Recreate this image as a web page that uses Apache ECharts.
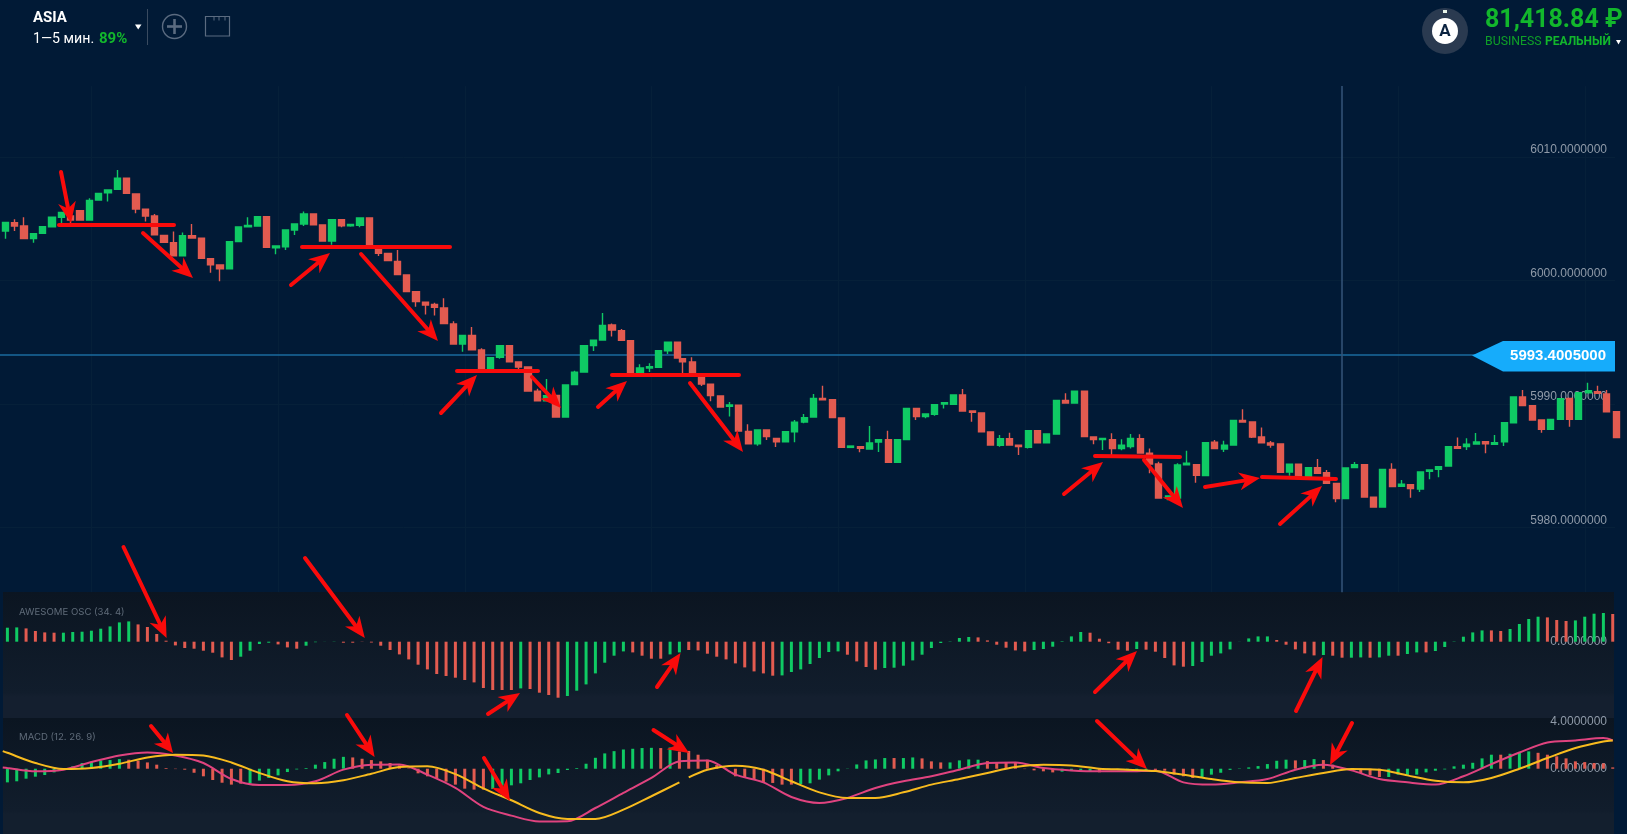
<!DOCTYPE html>
<html><head><meta charset="utf-8">
<style>html,body{margin:0;padding:0;background:#011a36}#c{width:1627px;height:834px}</style>
<script src="https://cdn.jsdelivr.net/npm/echarts@6/dist/echarts.min.js"></script>
</head><body><div id="c"></div>
<script>
const candleOpen=[6003.44,6004.12,6003.85,6002.82,6003.25,6003.79,6004.55,6004.66,6005.09,6004.33,
6005.95,6006.54,6006.81,6007.71,6006.44,6005.20,6004.66,6003.09,6002.50,6001.44,
6003.06,6002.85,6001.20,6000.69,6000.39,6002.58,6003.79,6003.85,6004.60,6002.09,
6002.17,6003.52,6004.01,6004.82,6003.93,6002.63,6004.36,6003.87,6003.90,6004.49,
6002.01,6001.63,6000.98,5999.88,5998.53,5997.67,5997.50,5997.21,5995.91,5994.29,
5994.99,5993.81,5992.24,5993.21,5994.16,5992.83,5992.43,5990.46,5989.70,5990.13,
5988.38,5991.00,5992.02,5994.16,5994.62,5995.83,5995.37,5994.56,5991.94,5992.35,
5992.40,5993.75,5994.43,5993.10,5992.83,5991.84,5991.03,5990.08,5989.24,5989.33,
5987.22,5986.22,5987.33,5986.65,5986.38,5987.19,5987.98,5988.38,5989.89,5989.78,
5988.30,5985.92,5985.98,5985.79,5986.36,5986.55,5984.71,5986.55,5989.08,5988.41,
5988.60,5989.43,5989.41,5990.16,5988.87,5988.70,5987.17,5986.09,5986.63,5986.09,
5985.92,5987.27,5986.30,5987.00,5989.73,5989.51,5990.46,5986.76,5986.55,5986.55,
5985.82,5985.98,5986.63,5985.44,5984.58,5981.82,5981.82,5984.52,5984.52,5983.63,
5986.33,5985.79,5986.11,5988.11,5987.98,5986.76,5986.28,5986.19,5983.93,5984.55,
5983.58,5984.28,5983.87,5983.01,5981.77,5984.28,5984.52,5981.88,5981.09,5984.14,
5982.77,5982.90,5982.55,5983.98,5984.14,5984.41,5985.98,5985.98,5986.19,5986.38,
5986.17,5986.38,5987.92,5990.00,5989.30,5988.14,5987.38,5988.19,5989.89,5988.19,
5990.35,5990.43,5990.24,5988.81];
const candleClose=[6004.14,6003.85,6002.82,6003.23,6003.79,6004.55,6004.95,6004.33,6004.33,6005.92,
6006.49,6006.76,6007.71,6006.49,6005.22,6004.66,6003.14,6002.52,6001.44,6003.06,
6002.87,6001.23,6000.71,6000.39,6002.58,6003.76,6003.90,6004.60,6002.12,6002.23,
6003.52,6004.01,6004.82,6003.95,6002.63,6004.36,6003.87,6003.98,6004.49,6002.04,
6001.63,6001.04,5999.91,5998.53,5997.72,5997.45,5997.26,5995.94,5994.29,5994.99,
5993.83,5992.21,5993.18,5994.16,5992.86,5992.43,5990.49,5989.70,5990.11,5988.38,
5990.97,5992.00,5994.16,5994.59,5995.80,5995.42,5994.59,5991.97,5992.35,5992.46,
5993.75,5994.43,5993.16,5992.86,5991.86,5991.05,5990.11,5989.19,5989.35,5987.25,
5986.22,5987.33,5986.79,5986.38,5987.19,5987.95,5988.33,5989.89,5989.78,5988.33,
5985.92,5986.03,5985.84,5986.28,5986.55,5984.71,5986.55,5989.08,5988.41,5988.62,
5989.38,5989.54,5990.16,5988.87,5988.76,5987.19,5986.11,5986.63,5986.11,5985.98,
5987.27,5986.30,5987.00,5989.73,5989.51,5990.46,5986.79,5986.55,5986.65,5985.82,
5986.09,5986.65,5985.47,5984.58,5981.82,5981.98,5984.49,5984.63,5983.66,5986.30,
5985.82,5986.09,5988.11,5987.98,5986.76,5986.30,5986.11,5983.90,5984.55,5983.55,
5984.28,5983.82,5983.01,5981.77,5984.25,5984.52,5981.90,5981.09,5984.14,5982.74,
5982.93,5982.58,5983.93,5984.09,5984.36,5985.98,5985.84,5986.17,5986.36,5986.22,
5986.30,5987.92,5990.00,5989.30,5988.14,5987.38,5988.19,5989.87,5988.19,5990.35,
5990.51,5990.30,5988.81,5986.71];
const candleLow=[6002.82,6003.44,6002.82,6002.50,6003.25,6003.79,6004.06,6004.06,6004.33,6004.33,
6005.95,6005.82,6006.81,6006.49,6004.87,6004.22,6003.14,6002.52,6001.44,6001.44,
6002.87,6001.23,6000.07,5999.37,6000.39,6002.58,6003.79,6003.85,6002.12,6001.55,
6001.90,6003.12,6003.85,6003.95,6002.63,6002.33,6003.74,6003.79,6003.74,6002.04,
6001.42,6001.04,5999.91,5998.53,5997.31,5996.69,5996.59,5995.94,5994.29,5993.67,
5993.83,5992.21,5992.24,5993.10,5992.86,5992.19,5990.49,5989.70,5989.70,5988.38,
5988.38,5991.00,5992.02,5993.72,5994.62,5994.89,5994.59,5991.97,5991.94,5992.02,
5992.40,5993.48,5993.16,5991.86,5991.86,5990.89,5989.65,5989.19,5988.43,5987.25,
5986.22,5986.06,5986.52,5985.95,5986.38,5986.33,5987.87,5988.38,5989.78,5988.33,
5985.92,5985.92,5985.52,5985.79,5985.55,5984.71,5984.71,5986.55,5988.14,5988.27,
5988.49,5989.06,5989.41,5988.87,5988.00,5987.19,5986.11,5985.98,5986.11,5985.30,
5985.82,5986.30,5986.30,5987.00,5989.51,5989.51,5986.79,5986.17,5985.71,5985.30,
5985.68,5985.84,5985.47,5983.82,5981.82,5981.63,5981.82,5984.52,5983.06,5983.63,
5985.82,5985.55,5986.11,5987.98,5986.68,5986.30,5985.90,5983.90,5983.63,5983.55,
5983.58,5983.82,5983.01,5981.47,5981.77,5984.28,5981.90,5981.09,5981.09,5982.74,
5982.77,5981.85,5982.31,5983.33,5983.50,5984.41,5985.84,5985.71,5986.19,5985.44,
5986.17,5986.03,5987.92,5989.30,5988.14,5987.11,5987.38,5988.19,5987.60,5988.19,
5990.35,5990.30,5988.81,5986.71];
const candleHigh=[6004.14,6004.39,6004.55,6003.23,6003.85,6004.55,6005.01,6005.01,6005.09,6006.09,
6006.49,6006.76,6008.38,6007.71,6006.44,6005.20,6004.82,6003.09,6003.41,6003.31,
6004.01,6002.85,6001.20,6000.69,6002.58,6003.76,6004.55,6004.60,6004.60,6002.23,
6003.52,6004.01,6005.03,6004.82,6003.93,6004.36,6004.36,6003.98,6004.49,6004.49,
6002.01,6001.63,6001.90,5999.88,5998.53,5997.67,5997.64,5997.99,5996.13,5994.99,
5995.67,5993.94,5993.18,5994.16,5994.16,5992.83,5992.43,5990.67,5991.46,5990.13,
5990.97,5992.13,5994.16,5994.59,5996.80,5995.96,5995.51,5994.56,5992.65,5992.73,
5993.75,5994.43,5994.43,5993.10,5993.21,5991.84,5991.03,5990.13,5989.60,5989.33,
5987.79,5987.33,5987.33,5986.65,5987.19,5988.14,5988.62,5990.24,5990.92,5989.78,
5988.30,5986.03,5985.98,5987.65,5986.55,5987.27,5986.55,5989.08,5989.08,5988.62,
5989.38,5989.54,5990.16,5990.65,5988.87,5988.70,5987.17,5986.92,5987.11,5986.09,
5987.27,5987.27,5987.00,5989.73,5990.30,5990.46,5990.46,5986.76,5986.65,5987.06,
5986.57,5987.00,5986.98,5985.84,5984.76,5981.98,5984.63,5985.65,5984.52,5986.30,
5986.52,5986.46,5988.11,5989.00,5987.98,5987.54,5986.44,5986.19,5984.55,5984.55,
5984.28,5984.98,5984.09,5983.01,5984.25,5984.74,5984.52,5981.88,5984.14,5984.63,
5983.28,5982.90,5983.93,5984.09,5984.36,5985.98,5986.73,5986.65,5987.09,5986.38,
5986.92,5987.92,5990.00,5990.57,5989.30,5988.14,5988.19,5989.87,5989.89,5990.35,
5991.16,5990.92,5990.57,5988.81];
const aoValues=[1.4,1.43,1.33,1.07,.93,.9,.9,.97,1,1.1,1.3,1.53,1.93,2.03,1.73,1.47,.77,.1,-.37,-.63,
-.7,-.9,-1.1,-1.57,-1.83,-1.5,-.9,-.23,-.1,-.27,-.57,-.7,-.4,-.05,-.01,.02,-.1,-.1,-.02,-.08,
-.4,-.83,-1.27,-1.77,-2.3,-2.77,-3.23,-3.43,-3.6,-3.83,-4.07,-4.63,-4.83,-4.83,-4.83,-4.67,-4.73,-5.1,-5.33,-5.6,
-5.43,-4.9,-4.27,-3.17,-2.1,-1.4,-.97,-1.07,-1.4,-1.7,-1.7,-1.27,-1.07,-.83,-.87,-1.2,-1.5,-1.77,-2.17,-2.57,
-2.97,-3.17,-3.4,-3.37,-3.03,-2.77,-2.23,-1.63,-1.03,-.97,-1.3,-1.97,-2.53,-2.8,-2.63,-2.6,-2.4,-1.87,-1.3,-.63,
-.13,.03,.37,.47,.43,.13,-.3,-.6,-.87,-.97,-.83,-.73,-.5,.05,.53,.97,.9,.3,-.15,-.8,
-.9,-.73,-.8,-1,-1.63,-2.37,-2.5,-2.43,-2.03,-1.4,-1.17,-.77,.01,.33,.53,.53,.17,-.3,-.77,-1.17,
-1.37,-1.33,-1.4,-1.6,-1.6,-1.57,-1.6,-1.57,-1.4,-1.4,-1.23,-1.07,-1.07,-.93,-.53,.03,.5,.93,1.13,1.13,
1.07,1.27,1.77,2.27,2.5,2.43,2.17,2.07,2.13,2.5,2.8,2.87,2.77];
const aoDirection=('gg rrrr gggggggg rrrrrrrrrrr gggg rrr gggg rrrrrrrrrrrrrrrrrrr g rrrr ggggggg rrrr gg rrrrrrrrrr ggggggg rrrr gggggggggg rrrrrr gggggg rrrrr g rrrrr ggggggggg rrrrr g rr gg r gg r gg r gggggg rr gggg rrr gggg r').replace(/ /g,'');
const histValues=[-1.15,-1.06,-.84,-.67,-.53,-.31,-.1,.2,.48,.59,.7,.73,.81,.76,.67,.53,.34,.06,-.03,-.08,
-.34,-.64,-.95,-1.18,-1.34,-1.26,-1.23,-1,-.78,-.56,-.28,-.06,.06,.34,.56,.84,1,.95,.84,.73,
.62,.48,.28,.03,-.39,-.64,-.84,-1.09,-1.34,-1.68,-1.76,-1.76,-1.71,-1.43,-1.4,-1.23,-.95,-.73,-.48,-.36,
-.11,.06,.42,.92,1.29,1.48,1.62,1.68,1.74,1.76,1.74,1.79,1.45,1.5,1.18,.76,.31,-.03,-.64,-.78,
-.92,-1.15,-1.2,-1.34,-1.34,-1.29,-1.23,-.92,-.56,-.22,.02,.36,.7,.78,.9,.9,.9,.95,.87,.62,
.53,.53,.7,.78,.76,.64,.53,.53,.48,-.03,-.14,-.22,-.31,-.25,-.2,-.14,-.22,-.3,-.1,-.12,
-.12,-.12,-.1,-.1,-.17,-.5,-.64,-.78,-.7,-.5,-.34,-.1,.03,.11,.22,.39,.67,.76,.7,.73,
.81,.73,.34,.06,-.08,-.36,-.56,-.7,-.7,-.5,-.53,-.5,-.31,-.17,-.06,.2,.34,.5,.87,1.18,
1.18,1.26,1.37,1.46,1.34,1.18,1.04,.87,.62,.56,.48,.45,.11];
const histDirection=('gggggg r gggggg rrrrrrrrrrrrr ggggggggggg rrrrrrrrrrrrrrr gggggggggggggggggg r g rrrrrrrrrrrrr gggggggggg r gg rrr gggg rrrrrrrr gggg r ggggg rrrrr gggggggggg r gg rrrrrrr gggggggggggg r ggg rrrrrrrrr').replace(/ /g,'');
const macdSlots=[-.5,0,3,6,9,12,15,18,21,24,27,30,33,36,39,42,45,48,51,54,57,60,63,66,69,72,75,78,81,84,87,90,93,96,99,102,105,108,111,114,117,120,123,126,129,132,135,138,141,144,147,150,153,156,159,162,165,168,171,172];
const macdValues=[.11,.06,-.22,-.08,.56,1.12,1.37,1.12,.48,-.87,-1.37,-1.37,-1.06,-.08,.34,.36,-.5,-1.62,-3.22,-3.95,-4.45,-4.43,-3.31,-2.04,-.78,.62,.7,-.5,-1.15,-2.38,-2.89,-2.46,-1.62,-1.06,-.64,-.08,.48,.53,.06,-.14,-.22,-.22,-.17,-1.15,-1.34,-1.15,-.87,-.08,.34,-.14,-.87,-1.15,-1.34,-.64,.39,1.37,2.21,2.38,2.58,2.38];
const signalSlots=[-.5,0,3,6,9,12,15,18,21,24,27,30,33,36,39,42,45,48,51,54,57,60,63,66,69,72,72.5,73,75,78,81,84,87,90,93,96,99,102,105,108,111,114,117,120,123,126,129,132,135,138,141,144,147,150,153,156,159,162,165,168,171,172];
const signalValues=[1.48,1.34,.48,-.03,.06,.42,.95,1.18,1.12,.53,-.36,-1.06,-1.23,-.98,-.42,.14,.2,-.45,-1.65,-2.66,-3.73,-4.23,-4.23,-3.45,-2.32,-1.15,null,-.73,-.08,.25,-.08,-1.06,-1.99,-2.46,-2.46,-1.99,-1.34,-.87,-.36,.14,.34,.28,0,-.08,-.2,-.5,-.87,-1.15,-1.2,-.78,-.36,-.03,-.08,-.56,-1.01,-1.15,-.78,0,.9,1.74,2.3,2.38];
const currentPrice=5993.4;
const priceTicks=[5980,5990,6000,6010];
const gridPrices=[5979.45,5989.45,5999.45,6009.45];
const gridSlots=[9.25,29.25,49.25,69.25,89.25,109.25,129.25,149.25,169.25];
const crosshairSlot=143.2;
const spliceSlot=73, spliceShift=.42;

// annotations drawn on the picture by hand: straight red strokes and arrows, in page pixels
const redStrokes=[[59,225,174,225],[302,247,450,247],[457,371,538,371],[612,375,739,375],[1095,456,1180,457],[1262,477,1336,479]];
const redArrows=[[61,172,71,223],[143,233,193,278],[291,285,330,253],[361,254,438,341],[441,413,477,375],[532,377,561,408],[598,407,627,381],[690,383,743,452],[1064,494,1103,462],[1144,460,1183,508],[1205,487,1260,478],[1280,524,1322,486],
[123.5,547,166.6,638],[305,558,364.8,638],[488,714,520,693],[151,726,173,753],[347,715,374.6,757],[484,758,510,801],[657,687,680.5,653],[653.5,730,689,753],[1095,692,1137,651],[1296,711,1322.5,657],[1097,721,1147,769],[1352,723,1330,765]];

const GREEN='#0fca64',RED='#e25b50',BG='#011a36';
const grad=(a,b,c)=>new echarts.graphic.LinearGradient(0,0,0,1,[{offset:0,color:a},{offset:.8,color:b},{offset:.83,color:c},{offset:1,color:c}]);
const annot=[];
annot.push({type:'rect',z:-1,shape:{x:3,y:592,width:1611,height:126},style:{fill:grad('#0b1521','#111d2c','#141f2f')}});
annot.push({type:'rect',z:-1,shape:{x:3,y:718,width:1611,height:116},style:{fill:grad('#0b1521','#111d2c','#131f2e')}});
redStrokes.forEach(s=>annot.push({type:'line',z:100,shape:{x1:s[0],y1:s[1],x2:s[2],y2:s[3]},style:{stroke:'#fa0b0b',lineWidth:4,lineCap:'round'}}));
redArrows.forEach(a=>{
  const dx=a[2]-a[0],dy=a[3]-a[1],len=Math.hypot(dx,dy),ux=dx/len,uy=dy/len,nx=-uy,ny=ux;
  const L=Math.min(21,len*.55),W=9,N=L*.7;
  annot.push({type:'line',z:100,shape:{x1:a[0],y1:a[1],x2:a[2]-ux*N,y2:a[3]-uy*N},style:{stroke:'#fa0b0b',lineWidth:4,lineCap:'round'}});
  annot.push({type:'polygon',z:100,shape:{points:[[a[2],a[3]],[a[2]-ux*L+nx*W,a[3]-uy*L+ny*W],[a[2]-ux*N,a[3]-uy*N],[a[2]-ux*L-nx*W,a[3]-uy*L-ny*W]]},style:{fill:'#fa0b0b'}});
});
// price tag
annot.push({type:'polygon',z:90,shape:{points:[[1472,355.5],[1503,341],[1615,341],[1615,371.5],[1503,371.5]]},style:{fill:'#16acfb'}});
annot.push({type:'text',z:91,x:1606,y:356,style:{text:'5993.4005000',fill:'#fff',font:'bold 15px "Liberation Sans"',align:'right',verticalAlign:'middle'}});
// panel captions
annot.push({type:'text',z:50,x:19,y:612,style:{text:'AWESOME OSC (34. 4)',fill:'#5f6b79',font:'9.6px "Inter"',verticalAlign:'middle'}});
annot.push({type:'text',z:50,x:19,y:737,style:{text:'MACD (12. 26. 9)',fill:'#5f6b79',font:'9.6px "Inter"',verticalAlign:'middle'}});
// header
const UI='"Roboto"';
annot.push({type:'text',x:33,y:18.5,style:{text:'ASIA',fill:'#fff',font:`bold 15px ${UI}`,verticalAlign:'middle'}});
annot.push({type:'text',x:33,y:39,style:{text:'1—5 мин.',fill:'#fff',font:`14.2px ${UI}`,verticalAlign:'middle'}});
annot.push({type:'text',x:99,y:39,style:{text:'89%',fill:'#12b72c',font:`bold 15px ${UI}`,verticalAlign:'middle'}});
annot.push({type:'polygon',shape:{points:[[135,24.5],[141.5,24.5],[138.2,29.5]]},style:{fill:'#fff'}});
annot.push({type:'line',shape:{x1:147.5,y1:9,x2:147.5,y2:45},style:{stroke:'#3a4b60',lineWidth:1}});
annot.push({type:'circle',shape:{cx:174.5,cy:26.5,r:12},style:{fill:'none',stroke:'#5b6b80',lineWidth:1.4}});
annot.push({type:'line',shape:{x1:167,y1:26.5,x2:182,y2:26.5},style:{stroke:'#5b6b80',lineWidth:2.6}});
annot.push({type:'line',shape:{x1:174.5,y1:19,x2:174.5,y2:34},style:{stroke:'#5b6b80',lineWidth:2.6}});
annot.push({type:'rect',shape:{x:205.5,y:16.5,width:24,height:19.5},style:{fill:'none',stroke:'#5b6b80',lineWidth:1.2}});
[214,219,225].forEach(x=>annot.push({type:'line',shape:{x1:x,y1:17,x2:x,y2:20.5},style:{stroke:'#5b6b80',lineWidth:1}}));
annot.push({type:'circle',shape:{cx:1445,cy:31,r:23},style:{fill:'#2a3a50'}});
annot.push({type:'circle',shape:{cx:1445,cy:31,r:13},style:{fill:'#fff'}});
annot.push({type:'text',x:1445,y:32,style:{text:'A',fill:'#0b2340',font:`bold 17px ${UI}`,align:'center',verticalAlign:'middle'}});
annot.push({type:'rect',shape:{x:1443,y:10,width:4,height:3},style:{fill:'#e8f5ea'}});
annot.push({type:'text',x:1485,y:21,style:{text:'81,418.84 ₽',fill:'#12b72c',font:`bold 25px ${UI}`,verticalAlign:'middle'}});
annot.push({type:'text',x:1485,y:42,style:{text:'BUSINESS',fill:'#0fa028',font:`12.3px ${UI}`,verticalAlign:'middle'}});
annot.push({type:'text',x:1545,y:42,style:{text:'РЕАЛЬНЫЙ',fill:'#12b72c',font:`bold 12px ${UI}`,verticalAlign:'middle'}});
annot.push({type:'polygon',shape:{points:[[1616,40],[1621,40],[1618.5,44.5]]},style:{fill:'#fff'}});

const candleSlot=i=>i<spliceSlot?i:i-spliceShift;
const candleData=candleOpen.map((o,i)=>[candleSlot(i),o,candleClose[i],candleLow[i],candleHigh[i]]);
const barData=(vals,dir)=>vals.map((v,j)=>({value:[j,v],itemStyle:{color:dir[j]==='g'?GREEN:RED}}));
const labelStyle={show:true,inside:true,margin:8,color:'#8f9aa8',fontFamily:'Liberation Sans',fontSize:12};
const noLines={show:false};
const fmt=(list)=>v=>list.some(t=>Math.abs(t-v)<1e-6)?v.toFixed(7):'';
const indX=gi=>({type:'value',gridIndex:gi,show:false,min:-.793,max:-.793+1615/9.3333,axisLine:noLines,axisTick:noLines,splitLine:noLines});

const option={
  animation:false,backgroundColor:BG,
  tooltip:{show:false},
  graphic:{elements:annot},
  grid:[
    {left:0,width:1615,top:75.9,height:518.7},
    {left:0,width:1615,top:591.7,height:125},
    {left:0,width:1615,top:715.3,height:119}
  ],
  xAxis:[
    {type:'value',gridIndex:0,show:false,min:-.571,max:-.571+1615/9.3333,axisLine:noLines,axisTick:noLines,splitLine:noLines},
    indX(1),indX(2)
  ],
  yAxis:[
    {type:'value',gridIndex:0,position:'right',z:2,min:5974,max:6016,interval:1,axisLine:noLines,axisTick:noLines,splitLine:noLines,
     axisLabel:{...labelStyle,formatter:fmt(priceTicks)}},
    {type:'value',gridIndex:1,position:'right',z:2,min:-7.5,max:5,interval:2.5,axisLine:noLines,axisTick:noLines,splitLine:noLines,
     axisLabel:{...labelStyle,formatter:fmt([0])}},
    {type:'value',gridIndex:2,position:'right',z:2,min:-5.5,max:4.5,interval:.5,axisLine:noLines,axisTick:noLines,splitLine:noLines,
     axisLabel:{...labelStyle,formatter:fmt([0,4])}}
  ],
  series:[
    {type:'line',name:'grid',xAxisIndex:0,yAxisIndex:0,data:[],z:1,silent:true,
     markLine:{silent:true,symbol:'none',animation:false,z:1,label:{show:false},lineStyle:{color:'#062039',width:1,type:'solid'},
       data:[...gridPrices.map(p=>({yAxis:p})),...gridSlots.map(s=>[{coord:[s,6015.18]},{coord:[s,5974.2]}])]}},
    {type:'candlestick',name:'ASIA',xAxisIndex:0,yAxisIndex:0,barWidth:6.6,z:3,
     itemStyle:{color:GREEN,color0:RED,borderColor:GREEN,borderColor0:RED,borderWidth:1.4},
     data:candleData,
     markLine:{silent:true,symbol:'none',animation:false,z:3,label:{show:false},
       data:[
         {yAxis:currentPrice,lineStyle:{color:'#1a6b9f',width:1.5,type:'solid'}},
         [{coord:[crosshairSlot,6015.18],lineStyle:{color:'#34547a',width:1.5,type:'solid'}},{coord:[crosshairSlot,5974.2]}]
       ]}},
    {type:'bar',name:'AO',xAxisIndex:1,yAxisIndex:1,barWidth:3,z:3,data:barData(aoValues,aoDirection)},
    {type:'bar',name:'MACD hist',xAxisIndex:2,yAxisIndex:2,barWidth:3,z:3,data:barData(histValues,histDirection)},
    {type:'line',name:'MACD',xAxisIndex:2,yAxisIndex:2,showSymbol:false,smooth:.3,z:4,lineStyle:{color:'#e0437f',width:2},
     data:macdSlots.map((s,i)=>[s,macdValues[i]])},
    {type:'line',name:'Signal',xAxisIndex:2,yAxisIndex:2,showSymbol:false,smooth:.3,z:5,connectNulls:false,lineStyle:{color:'#f8bb1e',width:2},
     data:signalSlots.map((s,i)=>[s,signalValues[i]])}
  ]
};
const chart=echarts.init(document.getElementById('c'),null,{renderer:'canvas'});
chart.setOption(option);
</script></body></html>
